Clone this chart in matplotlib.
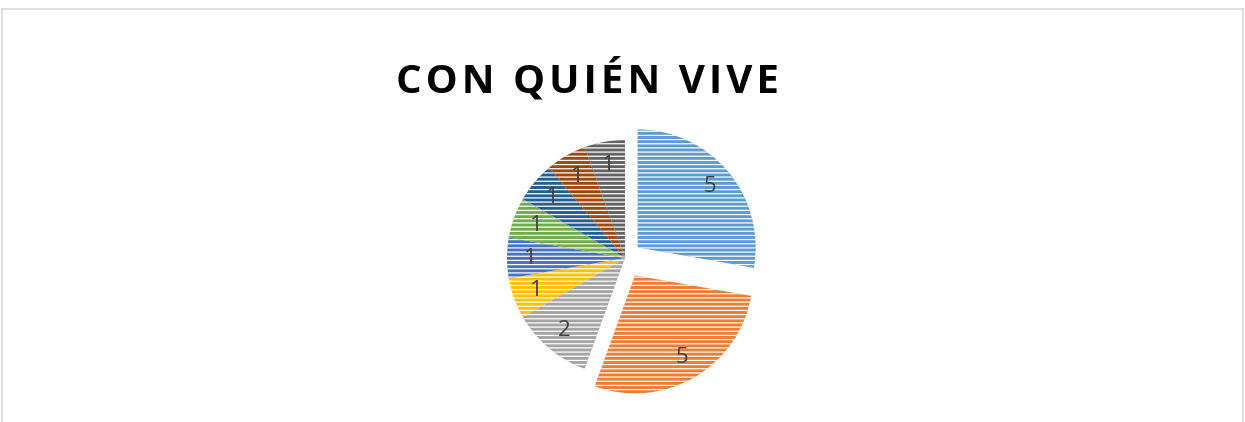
import matplotlib
matplotlib.use('Agg')
from matplotlib import pyplot as plt
from matplotlib.lines import Line2D

# Datos del gráfico
categorias = ['A', 'B', 'C', 'D', 'E', 'F', 'G', 'H', 'I']
valores = [5, 5, 2, 1, 1, 1, 1, 1, 1]
colores = ['#5B9BD5', '#ED7D31', '#A5A5A5', '#FFC000', '#4472C4',
           '#70AD47', '#255E91', '#9E480E', '#636363']
separacion = [0.14, 0.17, 0, 0, 0, 0, 0, 0, 0]
titulo = 'CON QUIÉN VIVE'

plt.rcParams['hatch.linewidth'] = 0.9

fig = plt.figure(figsize=(12.45, 4.22), dpi=100)

# marco del área del gráfico
gris = '#D9D9D9'
fig.add_artist(Line2D([2.5 / 1245, 2.5 / 1245], [0, 1 - 8.5 / 422], color=gris, lw=1.2))
fig.add_artist(Line2D([1242.5 / 1245, 1242.5 / 1245], [0, 1 - 8.5 / 422], color=gris, lw=1.2))
fig.add_artist(Line2D([2.5 / 1245, 1242.5 / 1245], [1 - 8.5 / 422, 1 - 8.5 / 422], color=gris, lw=1.2))

ax = fig.add_axes([0.3788, 0.0251, 0.2464, 0.727])
total = sum(valores)
wedges, texts, autotexts = ax.pie(
    valores, explode=separacion, colors=colores, startangle=90,
    counterclock=False, autopct=lambda p: f'{round(p * total / 100)}',
    pctdistance=0.8, radius=1,
    wedgeprops=dict(edgecolor='white', linewidth=0, hatch='----'),
    textprops=dict(color='#404040', fontsize=16, family=['Open Sans', 'DejaVu Sans']))
ax.set_xlim(-1.3, 1.3)
ax.set_ylim(-1.3, 1.3)
ax.set_aspect('equal')
ax.axis('off')

# espaciado entre letras del título
titulo_esp = '\u200a'.join(titulo)
fig.text(587 / 1245, 1 - 80 / 422, titulo_esp, ha='center', va='center',
         fontsize=29, fontweight='bold', family=['Open Sans', 'DejaVu Sans'],
         color='black')

fig.savefig('out.png', dpi=100)
